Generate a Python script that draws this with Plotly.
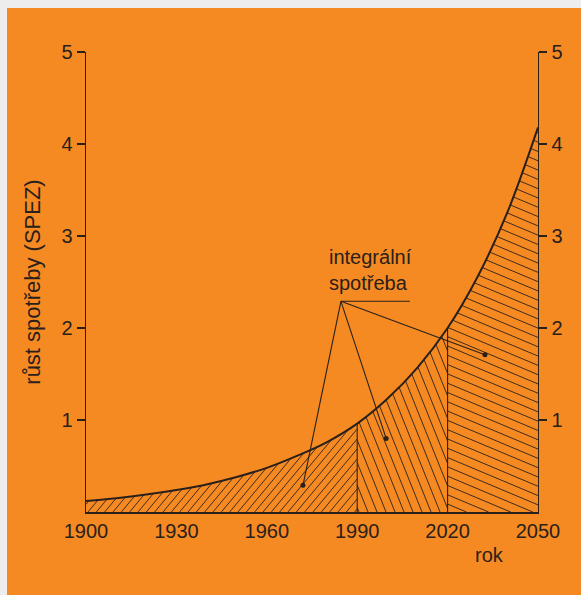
import numpy as np
import plotly.graph_objects as go

# ---- data ----
years = [1900, 1910, 1920, 1930, 1940, 1950, 1960, 1970, 1980, 1990,
         2000, 2010, 2020, 2030, 2040, 2050]
values = [0.12, 0.15, 0.19, 0.24, 0.30, 0.38, 0.48, 0.61, 0.76, 0.96,
          1.23, 1.57, 2.00, 2.56, 3.27, 4.18]
boundaries = [1990, 2020]
x_ticks = [1900, 1930, 1960, 1990, 2020, 2050]
y_ticks = [1, 2, 3, 4, 5]

# annotation leader geometry (data coordinates)
apex = (1984.6, 2.29)
underline_end_x = 2007.5
dots_x = [1972.0, 1999.6, 2032.4]
dots_y = [0.29, 0.80, 1.71]

INK = "#2a201b"
ORANGE = "#F68A22"
FONT = "Liberation Sans, Arial, sans-serif"

# pixel scale of the plot area (used only to give hatch lines a screen angle)
W, H = 581, 595
ML, MR, MT, MB = 86, 43, 52, 83
PW, PH = W - ML - MR, H - MT - MB
sx = PW / (years[-1] - years[0])
sy = PH / 5.0
logv = np.log(values)


def curve_at(x):
    return np.exp(np.interp(x, years, logv))


def hatch(xa, xb, slope, vspace, phase=0.0):
    Xa, Xb = (xa - years[0]) * sx, (xb - years[0]) * sx
    Xs = np.linspace(Xa, Xb, 2500)
    F = curve_at(Xs / sx + years[0]) * sy
    ymax = F.max()
    h = vspace / abs(slope)
    if slope > 0:
        cmin, cmax = Xa - ymax / slope, Xb
    else:
        cmin, cmax = Xa, Xb - ymax / slope
    xs, ys = [], []
    c = np.floor(cmin / h) * h + phase
    while c <= cmax + h:
        Y = slope * (Xs - c)
        inside = (Y >= 0) & (Y <= F)
        if inside.any():
            idx = np.where(inside)[0]
            splits = np.where(np.diff(idx) > 1)[0]
            starts = np.concatenate([[idx[0]], idx[splits + 1]])
            ends = np.concatenate([idx[splits], [idx[-1]]])
            for s, e in zip(starts, ends):
                if e > s:
                    xs += [Xs[s] / sx + years[0], Xs[e] / sx + years[0], None]
                    ys += [Y[s] / sy, Y[e] / sy, None]
        c += h
    return xs, ys


fig = go.Figure()

regions = [(years[0], boundaries[0], 1.2, 10.0, 2.0),
           (boundaries[0], boundaries[1], -2.5, 22.5, 3.0),
           (boundaries[1], years[-1], -0.42, 9.3, 4.0)]
for xa, xb, m, v, ph in regions:
    hx, hy = hatch(xa, xb, m, v, ph)
    fig.add_trace(go.Scatter(x=hx, y=hy, mode="lines",
                             line=dict(color=INK, width=0.9),
                             hoverinfo="skip"))

# vertical boundaries
for b in boundaries:
    fig.add_trace(go.Scatter(x=[b, b], y=[0, float(curve_at(b))], mode="lines",
                             line=dict(color=INK, width=1.1), hoverinfo="skip"))

# main curve
fig.add_trace(go.Scatter(x=years, y=values, mode="lines",
                         line=dict(color=INK, width=2, shape="spline"),
                         hoverinfo="skip"))

# leader lines
lx, ly = [apex[0], underline_end_x, None], [apex[1], apex[1], None]
for dx, dy in zip(dots_x, dots_y):
    lx += [apex[0], dx, None]
    ly += [apex[1], dy, None]
fig.add_trace(go.Scatter(x=lx, y=ly, mode="lines",
                         line=dict(color=INK, width=1.1), hoverinfo="skip"))
fig.add_trace(go.Scatter(x=dots_x, y=dots_y, mode="markers",
                         marker=dict(color=INK, size=5), hoverinfo="skip"))

# dummy trace for right axis
fig.add_trace(go.Scatter(x=[years[0]], y=[0], yaxis="y2", mode="markers",
                         marker=dict(opacity=0), hoverinfo="skip"))

axis_common = dict(range=[0, 5], tickvals=y_ticks, ticks="outside", ticklen=8,
                   tickwidth=1.3, tickcolor=INK, showline=True, linewidth=1.4,
                   linecolor=INK, showgrid=False, zeroline=False,
                   tickfont=dict(size=20, color=INK, family=FONT))

fig.update_layout(
    width=W, height=H,
    margin=dict(l=ML, r=MR, t=MT, b=MB, pad=0),
    paper_bgcolor="#EDEDED",
    plot_bgcolor="rgba(0,0,0,0)",
    showlegend=False,
    hovermode=False,
    font=dict(family=FONT, color=INK, size=20),
    xaxis=dict(range=[years[0], years[-1]], tickvals=x_ticks, ticks="",
               showline=True, linewidth=1.6, linecolor=INK, showgrid=False,
               zeroline=False, tickfont=dict(size=20, color=INK, family=FONT)),
    yaxis=dict(**axis_common,
               title=dict(text="růst spotřeby (SPEZ)", standoff=14,
                          font=dict(size=22, color=INK, family=FONT))),
    yaxis2=dict(**axis_common, overlaying="y", side="right", anchor="x"),
    shapes=[dict(type="rect", xref="paper", yref="paper", layer="below",
                 x0=(7 - ML) / PW, x1=(W - ML + 20) / PW,
                 y0=-(MB + 20) / PH, y1=(H - MB - 8) / PH,
                 fillcolor=ORANGE, line=dict(width=0))],
    annotations=[
        dict(x=1980.0, y=2.63, xref="x", yref="y", text="integrální<br>spotřeba",
             showarrow=False, xanchor="left", yanchor="middle", align="left",
             font=dict(size=20, color=INK, family=FONT)),
        dict(x=2034, y=-43 / PH, xref="x", yref="paper", text="rok",
             showarrow=False, xanchor="center", yanchor="middle",
             font=dict(size=20, color=INK, family=FONT)),
    ],
)

fig.write_html("out.html",
               config={"displayModeBar": False, "staticPlot": True},
               post_script="document.body.style.margin='0';"
                           "document.body.style.overflow='hidden';")
